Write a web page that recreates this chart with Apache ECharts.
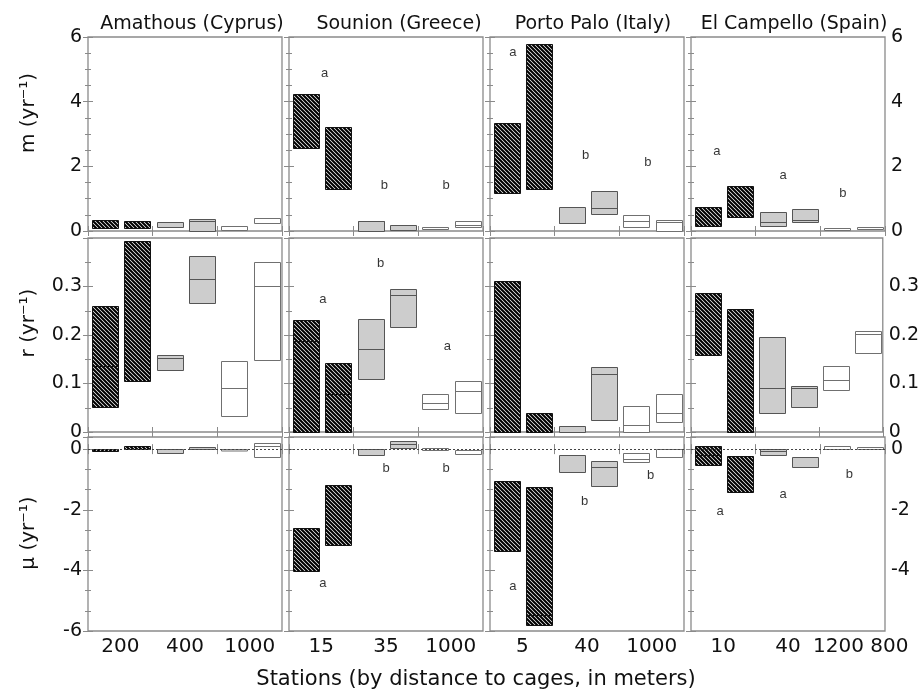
<!DOCTYPE html>
<html><head><meta charset="utf-8">
<script src="https://cdn.jsdelivr.net/npm/echarts@6/dist/echarts.min.js"></script>
<style>html,body{margin:0;padding:0;background:#fff}#c{width:922px;height:693px}</style>
</head><body><div id="c"></div>
<script>
// ---------- DATA ----------
const sites = ['Amathous (Cyprus)', 'Sounion (Greece)', 'Porto Palo (Italy)', 'El Campello (Spain)'];
const stationTicks = [['200', '400', '1000'], ['15', '35', '1000'], ['5', '40', '1000'], ['10', '40', '1200 800']];
const rowNames = ['m (yr\u207B\u00B9)', 'r (yr\u207B\u00B9)', '\u03BC (yr\u207B\u00B9)'];
const xTitle = 'Stations (by distance to cages, in meters)';
const barKinds = ['hatch', 'hatch', 'gray', 'gray', 'white', 'white'];

// each bar: [low, median, high]  (median null when not visible)
const m_Amathous   = [[0.08, null, 0.35], [0.08, null, 0.32], [0.13, null, 0.28], [0.00, 0.31, 0.37], [0.03, null, 0.15], [0.24, null, 0.41]];
const m_Sounion    = [[2.57, null, 4.24], [1.31, null, 3.22], [0.00, 0.30, 0.32], [0.02, null, 0.19], [0.05, null, 0.11], [0.13, 0.20, 0.30]];
const m_PortoPalo  = [[1.19, null, 3.34], [1.30, null, 5.79], [0.24, 0.26, 0.75], [0.52, 0.70, 1.25], [0.13, 0.32, 0.50], [0.01, 0.27, 0.33]];
const m_ElCampello = [[0.16, null, 0.75], [0.44, null, 1.39], [0.16, 0.27, 0.60], [0.29, 0.34, 0.67], [0.02, null, 0.10], [0.06, null, 0.13]];

const r_Amathous   = [[0.051, 0.137, 0.259], [0.105, null, 0.394], [0.128, 0.152, 0.159], [0.267, 0.315, 0.362], [0.034, 0.090, 0.147], [0.148, 0.301, 0.351]];
const r_Sounion    = [[0.000, 0.187, 0.231], [0.000, 0.079, 0.142], [0.109, 0.172, 0.232], [0.217, 0.282, 0.295], [0.047, 0.059, 0.079], [0.040, 0.084, 0.105]];
const r_PortoPalo  = [[0.000, null, 0.312], [0.000, null, 0.040], [0.000, null, 0.012], [0.025, 0.119, 0.135], [0.000, 0.014, 0.054], [0.021, 0.039, 0.079]];
const r_ElCampello = [[0.159, null, 0.286], [0.000, null, 0.253], [0.039, 0.091, 0.196], [0.051, 0.090, 0.094], [0.086, 0.107, 0.136], [0.163, 0.203, 0.208]];

const mu_Amathous   = [[-0.07, null, 0.01], [0.00, null, 0.11], [-0.14, null, 0.02], [0.00, null, 0.07], [-0.02, null, 0.01], [-0.26, 0.11, 0.19]];
const mu_Sounion    = [[-4.02, null, -2.59], [-3.16, null, -1.17], [-0.20, null, 0.00], [0.04, 0.16, 0.27], [-0.04, null, 0.05], [-0.16, null, -0.04]];
const mu_PortoPalo  = [[-3.36, null, -1.04], [-5.81, -5.46, -1.26], [-0.77, null, -0.21], [-1.23, -0.58, -0.40], [-0.44, -0.33, -0.14], [-0.26, null, 0.00]];
const mu_ElCampello = [[-0.54, -0.19, 0.11], [-1.43, null, -0.24], [-0.20, -0.07, -0.01], [-0.60, null, -0.25], [0.00, null, 0.10], [0.02, null, 0.08]];

// significance letters: [x position (bar units), y value, letter]
const let_m_Amathous = [];
const let_m_Sounion = [[1.1, 4.86, 'a'], [2.95, 1.40, 'b'], [4.86, 1.40, 'b']];
const let_m_PortoPalo = [[0.71, 5.53, 'a'], [2.96, 2.33, 'b'], [4.88, 2.13, 'b']];
const let_m_ElCampello = [[0.8, 2.47, 'a'], [2.85, 1.71, 'a'], [4.7, 1.17, 'b']];
const let_r_Amathous = [];
const let_r_Sounion = [[1.05, 0.273, 'a'], [2.83, 0.348, 'b'], [4.9, 0.176, 'a']];
const let_r_PortoPalo = [];
const let_r_ElCampello = [];
const let_mu_Amathous = [];
const let_mu_Sounion = [[1.05, -4.43, 'a'], [3.0, -0.65, 'b'], [4.86, -0.65, 'b']];
const let_mu_PortoPalo = [[0.71, -4.53, 'a'], [2.93, -1.71, 'b'], [4.97, -0.88, 'b']];
const let_mu_ElCampello = [[0.9, -2.04, 'a'], [2.85, -1.51, 'a'], [4.9, -0.85, 'b']];

// ---------- LAYOUT / STYLE ----------
const rowData = [
  [m_Amathous, m_Sounion, m_PortoPalo, m_ElCampello],
  [r_Amathous, r_Sounion, r_PortoPalo, r_ElCampello],
  [mu_Amathous, mu_Sounion, mu_PortoPalo, mu_ElCampello]
];
const rowLetters = [
  [let_m_Amathous, let_m_Sounion, let_m_PortoPalo, let_m_ElCampello],
  [let_r_Amathous, let_r_Sounion, let_r_PortoPalo, let_r_ElCampello],
  [let_mu_Amathous, let_mu_Sounion, let_mu_PortoPalo, let_mu_ElCampello]
];
const rowAxis = [
  {min: 0, max: 6, interval: 2, minor: 4},
  {min: 0, max: 0.4, interval: 0.1, minor: 2},
  {min: -6, max: 0.4, interval: 2, minor: 3}
];
const colLeft = [88, 289, 490, 691];
const rowTop = [37, 238, 437];
const PW = 194, PH = 194;
const FONT = 'DejaVu Sans';
const frame = '#8a8a8a';

// hatch pattern
const pc = document.createElement('canvas');
pc.width = 4; pc.height = 4;
const g = pc.getContext('2d');
g.fillStyle = '#fff'; g.fillRect(0, 0, 4, 4);
g.strokeStyle = '#000'; g.lineWidth = 2.1;
g.beginPath();
g.moveTo(-1, -1); g.lineTo(5, 5);
g.moveTo(-1, 3); g.lineTo(1, 5);
g.moveTo(3, -1); g.lineTo(5, 1);
g.stroke();
const hatch = {image: pc, repeat: 'repeat'};

const kindStyle = {
  hatch: {fill: hatch, stroke: '#111'},
  gray: {fill: '#cdcdcd', stroke: '#555'},
  white: {fill: '#ffffff', stroke: '#707070'}
};

function fmtY(r, side) {
  return function (v) {
    if (r === 1) { if (v > 0.35) return ''; return String(+v.toFixed(2)); }
    if (r === 2) { if (v > 0.1) return ''; if (side === 'right' && v < -5) return ''; return String(v); }
    return String(v);
  };
}

const grids = [], xAxes = [], yAxes = [], series = [];
for (let r = 0; r < 3; r++) {
  for (let c = 0; c < 4; c++) {
    const gi = grids.length;
    grids.push({left: colLeft[c], top: rowTop[r], width: PW, height: PH, show: true,
      borderColor: frame, borderWidth: 1.3, backgroundColor: 'transparent'});
    const ax = rowAxis[r];
    const xb = xAxes.length;
    ['bottom', 'top'].forEach(pos => xAxes.push({
      gridIndex: gi, type: 'value', min: 0, max: 6, interval: 2, position: pos,
      axisLine: {show: false}, axisTick: {show: true, inside: true, length: 5, lineStyle: {color: frame}},
      axisLabel: {show: false}, splitLine: {show: false}
    }));
    if (r === 2) {
      xAxes.push({
        gridIndex: gi, type: 'value', min: 0, max: 6, interval: 1, position: 'bottom',
        axisLine: {show: false}, axisTick: {show: false}, splitLine: {show: false},
        axisLabel: {show: true, margin: 6, fontSize: 20, fontFamily: FONT, color: '#111',
          showMinLabel: true, showMaxLabel: true,
          formatter: function (v) {
            const k = [1, 3, 5].indexOf(Math.round(v));
            if (k < 0 || Math.abs(v - Math.round(v)) > 1e-6) return '';
            const t = stationTicks[c][k];
            return t.indexOf(' ') > 0 ? '{s|' + t + '}' : t;
          },
          rich: {s: {fontSize: 20, fontFamily: FONT, color: '#111', padding: [0, 0, 0, 16]}}
        }
      });
    }
    const yl = yAxes.length;
    ['left', 'right'].forEach(pos => yAxes.push({
      gridIndex: gi, type: 'value', min: ax.min, max: ax.max, interval: ax.interval, position: pos,
      axisLine: {show: false},
      axisTick: {show: true, inside: true, length: 5, lineStyle: {color: frame}},
      minorTick: {show: true, splitNumber: ax.minor, length: 3, lineStyle: {color: frame}},
      splitLine: {show: false},
      axisLabel: {show: (pos === 'left' && c === 0) || (pos === 'right' && c === 3),
        margin: 6, fontSize: 19, fontFamily: FONT, color: '#111', formatter: fmtY(r, pos)}
    }));
    const arr = rowData[r][c];
    series.push({
      type: 'custom', xAxisIndex: xb, yAxisIndex: yl, animation: false, silent: true,
      data: arr.map((d, i) => [i, d[0], d[2]]),
      encode: {x: 0, y: [1, 2]},
      renderItem: function (params, api) {
        const i = api.value(0), lo = api.value(1), hi = api.value(2);
        const med = arr[params.dataIndex][1];
        const st = kindStyle[barKinds[i]];
        const a = api.coord([i + 0.53, hi]);
        const b = api.coord([i + 0.53, lo]);
        const w = Math.round(api.size([0.8, 0])[0]);
        const x = Math.round(a[0] - w / 2) + 0.5;
        const y1 = Math.round(a[1]) + 0.5;
        const h = Math.max(Math.round(b[1]) + 0.5 - y1, 1.5);
        const children = [{type: 'rect', shape: {x: x, y: y1, width: w, height: h},
          style: {fill: st.fill, stroke: st.stroke, lineWidth: 1}}];
        if (med !== null && med !== undefined) {
          const m = api.coord([i, med]);
          const my = Math.round(m[1]) + 0.5;
          children.push({type: 'line', shape: {x1: x, y1: my, x2: x + w, y2: my},
            style: {stroke: st.stroke, lineWidth: 1}});
        }
        return {type: 'group', children: children};
      }
    });
    const lets = rowLetters[r][c];
    const sc = {
      type: 'scatter', xAxisIndex: xb, yAxisIndex: yl, animation: false, silent: true,
      symbolSize: 1, itemStyle: {color: 'rgba(0,0,0,0)'},
      data: lets.map(l => [l[0], l[1], l[2]]),
      label: {show: true, position: 'inside', formatter: p => p.data[2],
        fontSize: 13, fontFamily: 'Liberation Sans', color: '#000'}
    };
    if (r === 2) {
      sc.markLine = {silent: true, animation: false, symbol: ['none', 'none'], label: {show: false},
        lineStyle: {type: [2, 2], color: '#444', width: 1}, data: [{yAxis: 0}]};
    }
    series.push(sc);
  }
}

const graphics = [];
const titleX = [192, 399, 593, 794];
sites.forEach((s, c) => graphics.push({type: 'text', x: titleX[c], y: 24,
  style: {text: s, fontSize: 19, fontFamily: FONT, fill: '#111', align: 'center', verticalAlign: 'middle'}}));
const nameY = [113, 323, 533];
rowNames.forEach((s, r) => graphics.push({type: 'text', x: 29, y: nameY[r], rotation: Math.PI / 2,
  style: {text: s, fontSize: 20, fontFamily: FONT, fill: '#111', align: 'center', verticalAlign: 'middle'}}));
graphics.push({type: 'text', x: 476, y: 680,
  style: {text: xTitle, fontSize: 21, fontFamily: FONT, fill: '#111', align: 'center', verticalAlign: 'middle'}});

const chart = echarts.init(document.getElementById('c'), null, {renderer: 'canvas'});
chart.setOption({
  backgroundColor: '#fff',
  animation: false,
  grid: grids, xAxis: xAxes, yAxis: yAxes, series: series,
  graphic: graphics
});
</script></body></html>
